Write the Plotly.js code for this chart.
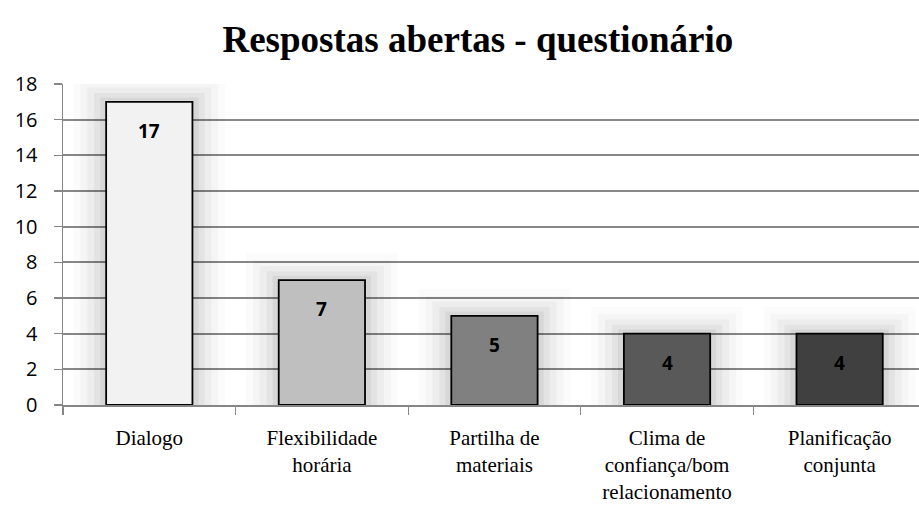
<!DOCTYPE html>
<html>
<head>
<meta charset="utf-8">
<script src="https://cdn.plot.ly/plotly-3.0.1.min.js"></script>
<style>html,body{margin:0;padding:0;background:#fff;}#chart{width:919px;height:506px;}</style>
</head>
<body>
<div id="chart"></div>
<script>
const categories = ["Dialogo", "Flexibilidade<br>horária", "Partilha de<br>materiais", "Clima de<br>confiança/bom<br>relacionamento", "Planificação<br>conjunta"];
const values = [17, 7, 5, 4, 4];
const barColors = ["#f2f2f2", "#bfbfbf", "#808080", "#595959", "#404040"];
const yTicks = [0, 2, 4, 6, 8, 10, 12, 14, 16, 18];

// soft glow layers behind bars (derived from values)
const glowLayers = [
  {w: 0.88, dy: 1.5, a: 0.015},
  {w: 0.80, dy: 1.1, a: 0.022},
  {w: 0.72, dy: 0.8, a: 0.03},
  {w: 0.64, dy: 0.5, a: 0.04},
  {w: 0.57, dy: 0.25, a: 0.05}
];
const traces = glowLayers.map(g => ({
  type: "bar", x: categories, y: values.map(v => v + g.dy), width: g.w,
  marker: {color: "rgba(0,0,0," + g.a + ")", line: {width: 0}},
  hoverinfo: "skip", showlegend: false
}));
traces.push({
  type: "bar", x: categories, y: values, width: 0.5,
  marker: {color: barColors, line: {color: "#000", width: 1.8}},
  showlegend: false, hoverinfo: "x+y"
});

const annotations = values.map((v, i) => ({
  x: categories[i], y: v, xref: "x", yref: "y", text: "<b>" + v + "</b>",
  showarrow: false, yshift: -29,
  font: {family: "'Open Sans', Lato, sans-serif", size: 19, color: "#000"}
}));

const serif = "'Liberation Serif', 'Times New Roman', Times, serif";

const layout = {
  width: 919, height: 506,
  margin: {l: 63, r: 0, t: 84, b: 101},
  paper_bgcolor: "#fff", plot_bgcolor: "#fff",
  barmode: "overlay",
  title: {text: "<b>Respostas abertas - questionário</b>", x: 0.52, xanchor: "center", y: 0.922, yanchor: "middle",
          font: {family: serif, size: 37, color: "#000"}},
  xaxis: {
    type: "category", range: [-0.5, 4.46],
    showline: true, linecolor: "#868686", linewidth: 1.5,
    ticks: "outside", tickson: "boundaries", ticklen: 8, tickcolor: "#868686", tickwidth: 1.3,
    showgrid: false, zeroline: false,
    tickfont: {family: serif, size: 21, color: "#000"},
    ticklabelstandoff: 13
  },
  yaxis: {
    range: [0, 18], tickvals: yTicks, ticktext: yTicks.map(String),
    showline: true, linecolor: "#868686", linewidth: 1.5,
    ticks: "outside", ticklen: 8, tickcolor: "#868686", tickwidth: 1.3,
    showgrid: true, gridcolor: "#888888", gridwidth: 2, zeroline: false,
    tickfont: {family: "'Open Sans', Lato, sans-serif", size: 20, color: "#000"},
    ticklabelstandoff: 12
  },
  annotations: annotations
};

Plotly.newPlot("chart", traces, layout, {displayModeBar: false, staticPlot: true});
</script>
</body>
</html>
